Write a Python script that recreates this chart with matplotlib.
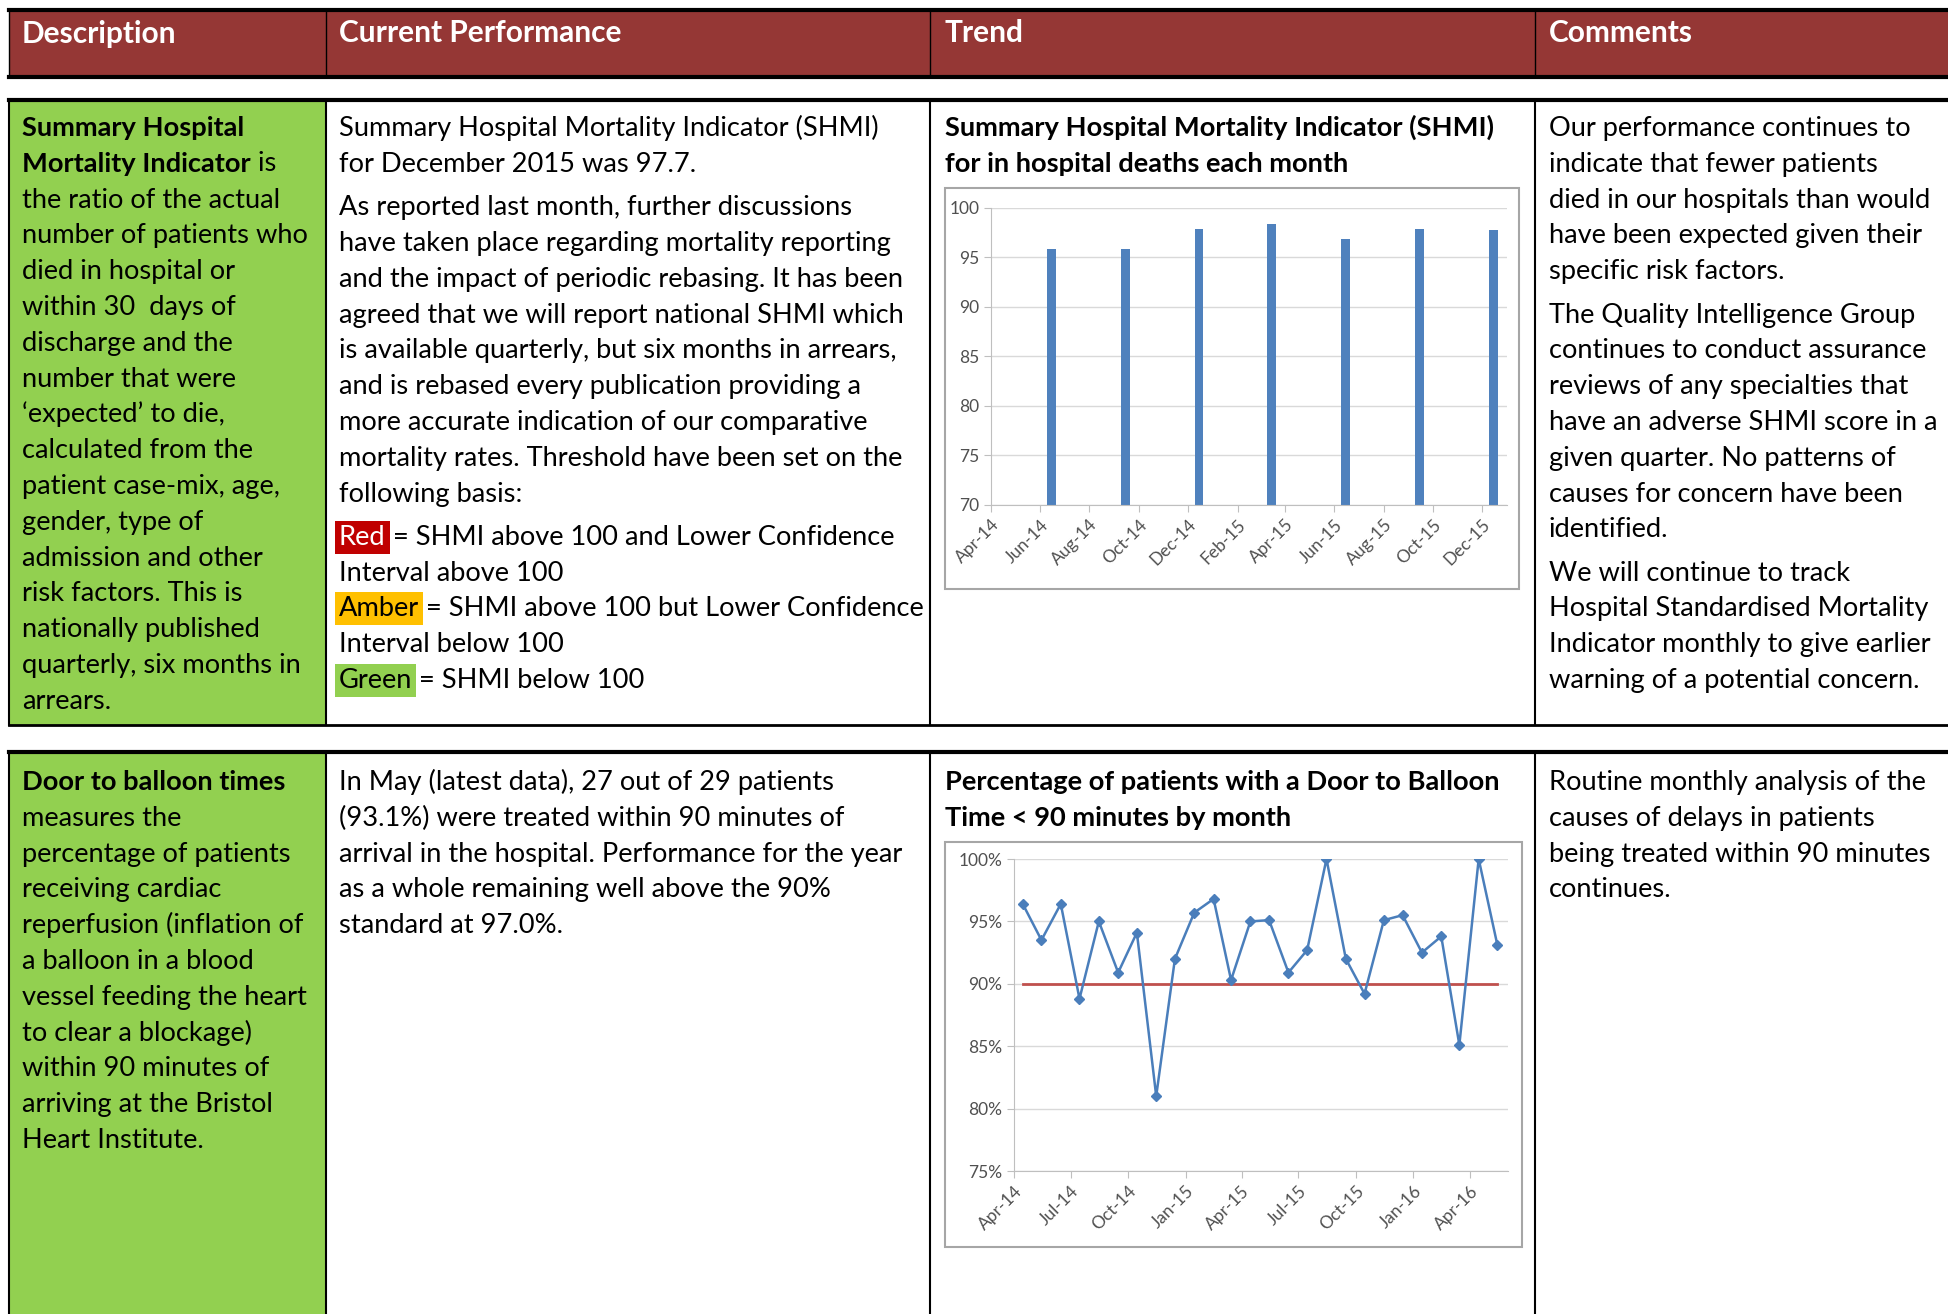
import numpy as np
import pandas as pd
import matplotlib
matplotlib.use('Agg')
import matplotlib.pyplot as plt
import matplotlib.dates as mdates
from matplotlib.patches import Rectangle

plt.rcParams['font.family'] = ['Lato', 'DejaVu Sans']

# ---- data ----
headers = ['Description', 'Current Performance', 'Trend', 'Comments']

# SHMI, quarterly
shmi_dates = ['2014-06-15', '2014-09-15', '2014-12-15', '2015-03-15',
              '2015-06-15', '2015-09-15', '2015-12-15']
shmi_values = [95.8, 95.8, 97.8, 98.3, 96.8, 97.8, 97.7]

# door to balloon, monthly (% within 90 minutes)
d2b_dates = ['2014-04-15', '2014-05-15', '2014-06-15', '2014-07-15', '2014-08-15',
             '2014-09-15', '2014-10-15', '2014-11-15', '2014-12-15', '2015-01-15',
             '2015-02-15', '2015-03-15', '2015-04-15', '2015-05-15', '2015-06-15',
             '2015-07-15', '2015-08-15', '2015-09-15', '2015-10-15', '2015-11-15',
             '2015-12-15', '2016-01-15', '2016-02-15', '2016-03-15', '2016-04-15',
             '2016-05-15']
d2b_values = [96.4, 93.5, 96.4, 88.8, 95.0, 90.9, 94.1, 81.0, 92.0, 95.7,
              96.8, 90.3, 95.0, 95.1, 90.9, 92.7, 100.0, 92.0, 89.2, 95.1,
              95.5, 92.5, 93.8, 85.1, 100.0, 93.1]
d2b_target = 90

# ---- text of the table ----
N, B = 'normal', 'bold'
r1_desc = [[("Summary Hospital", B)],
           [("Mortality Indicator", B), (" is", N)],
           "the ratio of the actual", "number of patients who", "died in hospital or",
           "within 30  days of", "discharge and the", "number that were",
           "\u2018expected\u2019 to die,", "calculated from the", "patient case-mix, age,",
           "gender, type of", "admission and other", "risk factors. This is",
           "nationally published", "quarterly, six months in", "arrears."]
r1_perf = [["Summary Hospital Mortality Indicator (SHMI)", "for December 2015 was 97.7."],
           ["As reported last month, further discussions",
            "have taken place regarding mortality reporting",
            "and the impact of periodic rebasing. It has been",
            "agreed that we will report national SHMI which",
            "is available quarterly, but six months in arrears,",
            "and is rebased every publication providing a",
            "more accurate indication of our comparative",
            "mortality rates. Threshold have been set on the",
            "following basis:"],
           [[("Red", N, '#C00000', 'white'), (" = SHMI above 100 and Lower Confidence", N)],
            "Interval above 100",
            [("Amber", N, '#FFC000', 'black'), (" = SHMI above 100 but Lower Confidence", N)],
            "Interval below 100",
            [("Green", N, '#92D050', 'black'), (" = SHMI below 100", N)]]]
r1_title = ["Summary Hospital Mortality Indicator (SHMI)", "for in hospital deaths each month"]
r1_comm = [["Our performance continues to", "indicate that fewer patients",
            "died in our hospitals than would", "have been expected given their",
            "specific risk factors."],
           ["The Quality Intelligence Group", "continues to conduct assurance",
            "reviews of any specialties that", "have an adverse SHMI score in a",
            "given quarter. No patterns of", "causes for concern have been", "identified."],
           ["We will continue to track", "Hospital Standardised Mortality",
            "Indicator monthly to give earlier", "warning of a potential concern."]]

r2_desc = [[("Door to balloon times", B)], "measures the", "percentage of patients",
           "receiving cardiac", "reperfusion (inflation of", "a balloon in a blood",
           "vessel feeding the heart", "to clear a blockage)", "within 90 minutes of",
           "arriving at the Bristol", "Heart Institute."]
r2_perf = [["In May (latest data), 27 out of 29 patients",
            "(93.1%) were treated within 90 minutes of",
            "arrival in the hospital. Performance for the year",
            "as a whole remaining well above the 90%",
            "standard at 97.0%."]]
r2_title = ["Percentage of patients with a Door to Balloon", "Time < 90 minutes by month"]
r2_comm = [["Routine monthly analysis of the", "causes of delays in patients",
            "being treated within 90 minutes", "continues."]]

# ---- layout (pixels) ----
W, H = 1949, 1314
FS = 19.6
LINE = 35.8
PGAP = 7.5
col_x = [9, 326, 930, 1535]
txt_x = [22, 339, 945, 1549]
HEAD_RED = '#953735'
GREEN = '#92D050'

fig = plt.figure(figsize=(W / 100, H / 100), dpi=100)
bg = fig.add_axes([0, 0, 1, 1])
bg.set_xlim(0, W)
bg.set_ylim(H, 0)
bg.axis('off')


def rich(x, y, segs, color='black'):
    prev = None
    for seg in segs:
        txt, wt = seg[0], seg[1]
        kw = dict(fontsize=FS, fontweight=wt, color=color)
        if len(seg) > 2:
            kw['bbox'] = dict(boxstyle='square,pad=0.15', fc=seg[2], ec='none')
            kw['color'] = seg[3]
        if prev is None:
            prev = bg.text(x, y, txt, ha='left', va='baseline', **kw)
        else:
            prev = bg.annotate(txt, xy=(1, 0), xycoords=prev, ha='left', va='bottom', **kw)


def block(x, y, paras, weight=N):
    for p in paras:
        for ln in p:
            rich(x, y, [(ln, weight)] if isinstance(ln, str) else ln)
            y += LINE
        y += PGAP


# header
bg.add_patch(Rectangle((col_x[0], 10), W - col_x[0], 67, fc=HEAD_RED, ec='none'))
bg.plot([col_x[0], W], [10, 10], color='black', lw=3)
bg.plot([col_x[0], W], [77, 77], color='black', lw=3)
for cx in col_x:
    bg.plot([cx, cx], [10, 77], color='black', lw=1)
for tx, h in zip(txt_x, headers):
    bg.text(tx, 42.5, h, fontsize=21.5, fontweight='bold', color='white', ha='left', va='baseline')

# rows
for top, bot in [(100, 725), (752, H + 5)]:
    bg.add_patch(Rectangle((col_x[0], top), col_x[1] - col_x[0], bot - top, fc=GREEN, ec='none'))
    bg.plot([col_x[0], W], [top, top], color='black', lw=3)
    bg.plot([col_x[0], W], [bot, bot], color='black', lw=2)
    for cx in col_x:
        bg.plot([cx, cx], [top, bot], color='black', lw=1.5)

y1, y2 = 136, 790
block(txt_x[0], y1, [r1_desc])
block(txt_x[1], y1, r1_perf)
block(txt_x[2], y1, [r1_title], weight=B)
block(txt_x[3], y1, r1_comm)
block(txt_x[0], y2, [r2_desc])
block(txt_x[1], y2, r2_perf)
block(txt_x[2], y2, [r2_title], weight=B)
block(txt_x[3], y2, r2_comm)

# chart frames
bg.add_patch(Rectangle((945, 188), 574, 401, fc='white', ec='#A6A6A6', lw=1.5))
bg.add_patch(Rectangle((945, 842), 577, 405, fc='white', ec='#A6A6A6', lw=1.5))


def px_axes(left, top, right, bottom):
    return fig.add_axes([left / W, 1 - bottom / H, (right - left) / W, (bottom - top) / H])


def style(ax):
    for s in ['top', 'right']:
        ax.spines[s].set_visible(False)
    for s in ['left', 'bottom']:
        ax.spines[s].set_color('#BFBFBF')
    ax.grid(axis='y', color='#D9D9D9', lw=1)
    ax.set_axisbelow(True)
    ax.tick_params(axis='both', colors='#BFBFBF', labelcolor='#505050', labelsize=12.5, length=5)
    ax.xaxis.set_major_formatter(mdates.DateFormatter('%b-%y'))
    for lab in ax.get_xticklabels():
        lab.set_rotation(45)
        lab.set_ha('right')
        lab.set_rotation_mode('anchor')


# SHMI bar chart
ax1 = px_axes(991, 207.6, 1507, 504.7)
ax1.bar(pd.to_datetime(shmi_dates), shmi_values, width=11, color='#4F81BD')
ax1.set_ylim(70, 100)
ax1.set_yticks(np.arange(70, 101, 5))
ax1.set_xlim(pd.Timestamp('2014-04-01'), pd.Timestamp('2016-01-01'))
ax1.xaxis.set_major_locator(mdates.MonthLocator(bymonth=[2, 4, 6, 8, 10, 12]))
style(ax1)

# door to balloon line chart
ax2 = px_axes(1014, 859, 1508, 1171)
dd = pd.to_datetime(d2b_dates)
ax2.plot(dd, [d2b_target] * len(dd), color='#C0504D', lw=2)
ax2.plot(dd, d2b_values, color='#4A7EBB', lw=1.8, marker='D', ms=5)
ax2.set_ylim(75, 100)
ax2.set_yticks(np.arange(75, 101, 5))
ax2.yaxis.set_major_formatter(matplotlib.ticker.FuncFormatter(lambda v, p: f'{v:.0f}%'))
ax2.set_xlim(pd.Timestamp('2014-04-01'), pd.Timestamp('2016-06-01'))
ax2.xaxis.set_major_locator(mdates.MonthLocator(bymonth=[1, 4, 7, 10]))
style(ax2)

fig.savefig('out.png', dpi=100)
